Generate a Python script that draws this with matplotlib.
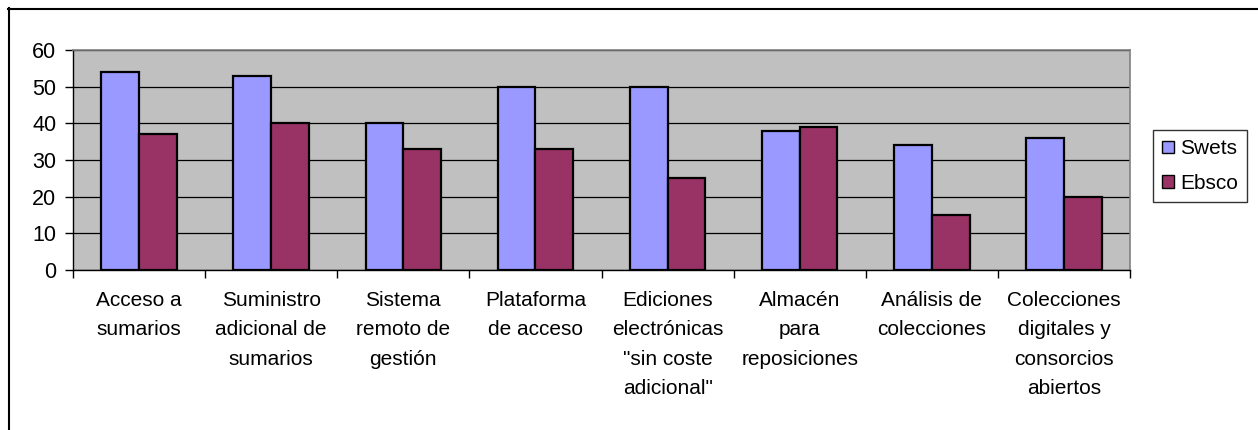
import numpy as np
import matplotlib
matplotlib.use("Agg")
import matplotlib.pyplot as plt
from matplotlib.lines import Line2D
from matplotlib.patches import Patch

plt.rcParams["font.family"] = ["Liberation Sans", "DejaVu Sans"]

categories = [
    "Acceso a\nsumarios",
    "Suministro\nadicional de\nsumarios",
    "Sistema\nremoto de\ngestión",
    "Plataforma\nde acceso",
    "Ediciones\nelectrónicas\n\"sin coste\nadicional\"",
    "Almacén\npara\nreposiciones",
    "Análisis de\ncolecciones",
    "Colecciones\ndigitales y\nconsorcios\nabiertos",
]
swets = [54, 53, 40, 50, 50, 38, 34, 36]
ebsco = [37, 40, 33, 33, 25, 39, 15, 20]
series_names = ["Swets", "Ebsco"]
colors = ["#9999FF", "#993366"]
yticks = [0, 10, 20, 30, 40, 50, 60]

W, H = 1258, 430
fig = plt.figure(figsize=(W / 100, H / 100), dpi=100)

# outer chart frame (top and left edges visible)
fig.add_artist(Line2D([8 / W, 1], [1 - 8.5 / H] * 2, color="black", lw=1.5))
fig.add_artist(Line2D([8.5 / W] * 2, [0, 1 - 8 / H], color="black", lw=1.5))

ax = fig.add_axes([73 / W, 1 - 270 / H, (1130 - 73) / W, (270 - 50) / H])
ax.set_facecolor("#C0C0C0")

x = np.arange(len(categories))
bw = 1 / 3.5
ax.bar(x - bw / 2, swets, bw, color=colors[0], edgecolor="black", linewidth=1.6, zorder=3)
ax.bar(x + bw / 2, ebsco, bw, color=colors[1], edgecolor="black", linewidth=1.6, zorder=3)

ax.set_xlim(-0.5, len(categories) - 0.5)
ax.set_ylim(0, 60)
ax.set_yticks(yticks)
ax.yaxis.grid(True, color="black", linewidth=0.9, zorder=1)
ax.set_axisbelow(True)

ax.set_xticks(x)
ax.set_xticklabels(categories, fontsize=15, linespacing=1.7)
ax.set_xticks(np.arange(len(categories) + 1) - 0.5, minor=True)
ax.tick_params(axis="x", which="major", length=0, pad=15)
ax.tick_params(axis="x", which="minor", length=6, width=1, color="black", direction="out")
ax.tick_params(axis="y", length=6, width=1, pad=6, labelsize=15.5, direction="out")

for side in ["top", "right"]:
    ax.spines[side].set_color("#808080")
    ax.spines[side].set_linewidth(1.2)
for side in ["left", "bottom"]:
    ax.spines[side].set_color("black")
    ax.spines[side].set_linewidth(1.0)

handles = [Patch(facecolor=c, edgecolor="black", linewidth=1.0) for c in colors]
leg = fig.legend(handles, series_names, loc="upper left",
                 bbox_to_anchor=(1153 / W, 1 - 130 / H), fontsize=15,
                 frameon=True, fancybox=False, handlelength=0.55, handleheight=0.55,
                 handletextpad=0.3, borderpad=0.45, labelspacing=0.75, borderaxespad=0)
leg.get_frame().set_edgecolor("black")
leg.get_frame().set_linewidth(1.0)

fig.savefig("out.png", dpi=100)
